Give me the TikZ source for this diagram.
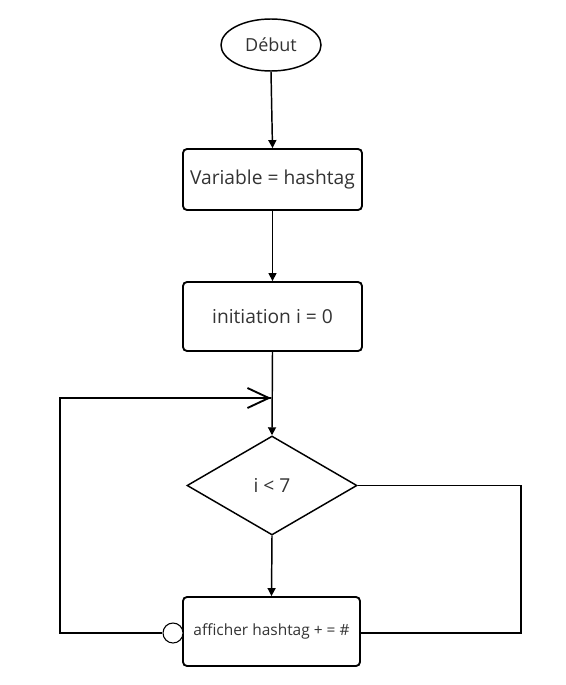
\documentclass[tikz,border=0pt]{standalone}
\usepackage{fontspec}
\setmainfont{Open Sans}
\usetikzlibrary{shapes.geometric,arrows.meta}
\begin{document}
\begin{tikzpicture}[x=0.75pt,y=-0.75pt,
  line/.style={line width=1.1pt,draw=black},
  flow/.style={line, -{Triangle[length=6pt,width=6pt]}},
  procbox/.style={draw=black,line width=1.4pt,rounded corners=3pt,minimum width=179*0.75pt,inner sep=0pt,font=\fontsize{14.4}{17}\selectfont,text=black!80},
  txt/.style={font=\fontsize{14.4}{17}\selectfont,text=black!80}]
\useasboundingbox (0,0) rectangle (565,685);
\node[draw=black,line width=1.1pt,ellipse,minimum width=100*0.75pt,minimum height=52*0.75pt,inner sep=0pt,txt,font=\fontsize{13.5}{16}\selectfont] (debut) at (271,45) {Début};
\node[procbox,minimum height=61*0.75pt] (var) at (272.5,179.5) {Variable = hashtag};
\node[procbox,minimum height=69*0.75pt] (init) at (272.5,316.5) {initiation i = 0};
\node[draw=black,line width=1.1pt,diamond,aspect=1.72,minimum width=170*0.75pt,minimum height=99*0.75pt,inner sep=0pt,txt] (cond) at (272,485.5) {i < 7};
\node[procbox,minimum height=69*0.75pt,minimum width=177*0.75pt,font=\fontsize{11.6}{14}\selectfont] (aff) at (271.5,631.5) {afficher hashtag + = \#};
\node[draw=black,line width=0.8pt,circle,minimum size=20*0.75pt,inner sep=0pt,fill=white] (circ) at (173,633) {};
\coordinate (merge) at (271,398);
\coordinate (lbot) at (60,633);
\coordinate (ltop) at (60,398);
\coordinate (rtop) at (521,485.5);
\coordinate (rbot) at (521,633);
\draw[flow] (debut.south) -- (var.north);
\draw[flow] (var.south) -- (init.north);
\draw[flow] (init.south) -- (cond.north);
\draw[flow] (cond.south) -- (aff.north);
\draw[line] (cond.east) -- (rtop) -- (rbot) -- (aff.east |- rbot);
\draw[line] (circ.west) -- (lbot) -- (ltop) -- (merge);
\draw[line width=1.4pt,-{Straight Barb[length=16pt,width=15pt,line width=1.4pt]}] (165,398) -- (merge);
\end{tikzpicture}
\end{document}
